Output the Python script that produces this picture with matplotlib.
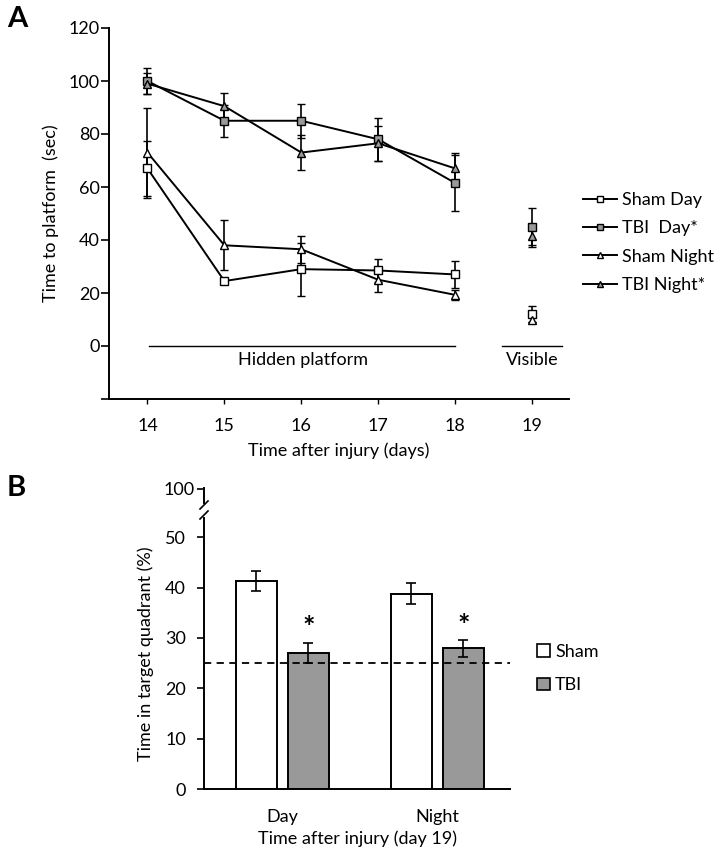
import matplotlib
matplotlib.use("Agg")
import matplotlib.pyplot as plt
import numpy as np
from matplotlib.lines import Line2D
from matplotlib.patches import Patch

plt.rcParams["font.family"] = ["Lato", "DejaVu Sans"]
plt.rcParams["font.size"] = 13

# Panel A: escape latency (sec), hidden platform days 14-18, visible day 19
days_hidden = [14, 15, 16, 17, 18]
day_visible = [19]

sham_day = [67, 24.5, 29, 28.5, 27]
sham_day_err = [10.5, 1.0, 10, 4.5, 5]
tbi_day = [100, 85, 85, 78, 61.5]
tbi_day_err = [5, 6, 6.5, 8, 10.5]
sham_night = [73, 38, 36.5, 25, 19.3]
sham_night_err = [17, 9.5, 5, 4.5, 2]
tbi_night = [99, 90.5, 73, 76.5, 67]
tbi_night_err = [4, 5, 6.5, 6.5, 6]

sham_day_vis = [12]
sham_day_vis_err = [3]
tbi_day_vis = [45]
tbi_day_vis_err = [7]
sham_night_vis = [10]
sham_night_vis_err = [1]
tbi_night_vis = [41.5]
tbi_night_vis_err = [4]

# Panel B: probe trial, time in target quadrant (%)
probe_groups = ["Day", "Night"]
probe_sham = [41.3, 38.8]
probe_sham_err = [2.0, 2.1]
probe_tbi = [27.0, 27.9]
probe_tbi_err = [2.0, 1.6]
chance_level = 25

GRAY = "#999999"
W, H = 719, 858

fig = plt.figure(figsize=(W / 100, H / 100), dpi=100)

# ---------------- Panel A ----------------
axA = fig.add_axes([109 / W, 1 - 399 / H, (569 - 109) / W, (399 - 28) / H])
series = [
    ("Sham Day", sham_day, sham_day_err, sham_day_vis, sham_day_vis_err, "s", "white"),
    ("TBI  Day*", tbi_day, tbi_day_err, tbi_day_vis, tbi_day_vis_err, "s", GRAY),
    ("Sham Night", sham_night, sham_night_err, sham_night_vis, sham_night_vis_err, "^", "white"),
    ("TBI Night*", tbi_night, tbi_night_err, tbi_night_vis, tbi_night_vis_err, "^", GRAY),
]
handles = []
for label, vals, errs, vvals, verrs, mk, fc in series:
    ms = 5.5 if mk == "s" else 6.2
    style = dict(color="black", marker=mk, markerfacecolor=fc, markeredgecolor="black",
                 markersize=ms, markeredgewidth=1.0, ecolor="black", elinewidth=1.2,
                 capsize=3, capthick=1.2, linewidth=1.4)
    axA.errorbar(days_hidden, vals, yerr=errs, **style)
    axA.errorbar(day_visible, vvals, yerr=verrs, linestyle="none", **style)
    handles.append(Line2D([0], [0], color="black", marker=mk, markerfacecolor=fc,
                          markeredgecolor="black", markersize=4.5, linewidth=1.4, label=label))

axA.plot([14.02, 18.0], [0, 0], color="black", linewidth=1.0)
axA.plot([18.61, 19.39], [0, 0], color="black", linewidth=1.0)
axA.text(16.02, -5.3, "Hidden platform", ha="center", va="center", fontsize=13)
axA.text(19.0, -5.3, "Visible", ha="center", va="center", fontsize=13)

axA.set_xlim(13.5, 19.48)
axA.set_ylim(-20, 120)
axA.set_xticks([14, 15, 16, 17, 18, 19])
axA.set_yticks([-20, 0, 20, 40, 60, 80, 100, 120])
axA.set_yticklabels(["", "0", "20", "40", "60", "80", "100", "120"])
axA.tick_params(axis="x", length=3.5, width=1.0, pad=10, labelsize=13)
axA.tick_params(axis="y", length=5.5, width=1.2, pad=1, labelsize=13)
axA.spines["top"].set_visible(False)
axA.spines["right"].set_visible(False)
axA.spines["left"].set_linewidth(1.4)
axA.spines["bottom"].set_linewidth(1.4)
axA.set_ylabel("Time to platform  (sec)", fontsize=13, labelpad=7)
axA.set_xlabel("Time after injury (days)", fontsize=13, labelpad=6)

fig.legend(handles=handles, loc="upper left", bbox_to_anchor=(583 / W, 1 - 192 / H),
           frameon=False, handlelength=1.9, handletextpad=0.25, labelspacing=0.68,
           borderpad=0, borderaxespad=0, fontsize=13)

fig.text(17 / W, 1 - 19 / H, "A", fontsize=21, fontweight="bold", va="center", ha="center")

# ---------------- Panel B ----------------
axB = fig.add_axes([204 / W, 1 - 789 / H, (510 - 204) / W, (789 - 518) / H])
axB_top = fig.add_axes([204 / W, 1 - 503 / H, (510 - 204) / W, (503 - 488) / H])

x = np.arange(len(probe_groups))
off = 0.168
width = 0.265
axB.bar(x - off, probe_sham, width, color="white", edgecolor="black", linewidth=1.4,
        yerr=probe_sham_err, capsize=3.5, error_kw=dict(elinewidth=1.2, capthick=1.2))
axB.bar(x + off, probe_tbi, width, color=GRAY, edgecolor="black", linewidth=1.4,
        yerr=probe_tbi_err, capsize=3.5, error_kw=dict(elinewidth=1.2, capthick=1.2))
for xi, v, e in zip(x + off, probe_tbi, probe_tbi_err):
    axB.text(xi, v + e + 0.3, "*", ha="center", va="bottom", fontsize=21, fontweight="bold")
axB.axhline(chance_level, color="black", linestyle=(0, (4, 3)), linewidth=1.3, zorder=3)

axB.set_xlim(-0.506, 1.468)
axB.set_ylim(0, 53.8)
axB.set_yticks([0, 10, 20, 30, 40, 50])
axB.set_xticks(x)
axB.set_xticklabels(probe_groups)
axB.tick_params(axis="x", length=0, pad=14.5, labelsize=13)
axB.tick_params(axis="y", length=5, width=1.2, pad=8, labelsize=13)
axB.spines["top"].set_visible(False)
axB.spines["right"].set_visible(False)
axB.spines["left"].set_linewidth(1.4)
axB.spines["bottom"].set_linewidth(1.4)
axB.set_ylabel("Time in target quadrant (%)", fontsize=13, labelpad=8)
axB.set_xlabel("Time after injury (day 19)", fontsize=13, labelpad=4)

axB_top.set_xlim(-0.506, 1.468)
axB_top.set_ylim(96.5, 100.2)
axB_top.set_yticks([100])
axB_top.set_xticks([])
axB_top.tick_params(axis="y", length=5, width=1.2, pad=2, labelsize=13)
for s in ["top", "right", "bottom"]:
    axB_top.spines[s].set_visible(False)
axB_top.spines["left"].set_linewidth(1.4)
axB_top.patch.set_alpha(0)

# axis break marks
for yb in (505, 515):
    fig.add_artist(Line2D([(204 - 4) / W, (204 + 4) / W],
                          [1 - (yb + 4) / H, 1 - (yb - 4) / H],
                          color="black", linewidth=1.2))

leg_handles = [Patch(facecolor="white", edgecolor="black", linewidth=1.2, label="Sham"),
               Patch(facecolor=GRAY, edgecolor="black", linewidth=1.2, label="TBI")]
fig.legend(handles=leg_handles, loc="upper left", bbox_to_anchor=(537 / W, 1 - 644 / H),
           frameon=False, handlelength=0.7, handleheight=0.7, handletextpad=0.3,
           labelspacing=0.95, borderpad=0, borderaxespad=0, fontsize=13)

fig.text(16 / W, 1 - 488 / H, "B", fontsize=21, fontweight="bold", va="center", ha="center")

fig.savefig("out.png", dpi=100)
